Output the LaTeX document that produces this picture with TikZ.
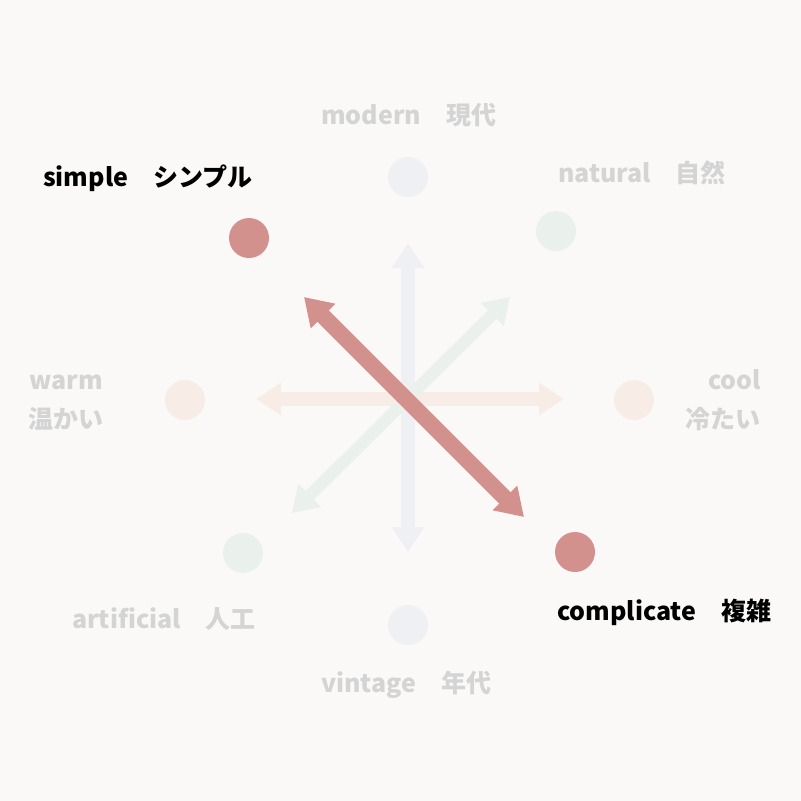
\documentclass[tikz,border=0pt]{standalone}
\usepackage{fontspec}
\setmainfont{Noto Sans CJK JP}
\usetikzlibrary{arrows.meta}
\definecolor{bgc}{HTML}{FAF9F7}
\definecolor{redc}{HTML}{D3918E}
\definecolor{bluec}{HTML}{EEF0F3}
\definecolor{greenc}{HTML}{EAF0EC}
\definecolor{peachc}{HTML}{F7EDE6}
\definecolor{grayt}{HTML}{D4D4D4}
\tikzset{
  dot/.style={circle, fill=#1, draw=none, minimum size=40pt, inner sep=0},
  lbl/.style={anchor=base west, inner sep=0, font=\fontsize{25}{29}\selectfont\bfseries, text=#1},
  lblr/.style={anchor=base east, inner sep=0, font=\fontsize{25}{29}\selectfont\bfseries, text=#1},
  axis/.style={draw=#1, line width=14pt, {Triangle[width=31pt,length=25pt]}-{Triangle[width=31pt,length=25pt]}},
  maxis/.style={draw=#1, line width=16pt, {Triangle[width=33pt,length=27pt]}-{Triangle[width=33pt,length=27pt]}}
}
\begin{document}
\begin{tikzpicture}[x=1pt,y=-1pt]
\fill[bgc] (0,0) rectangle (801,801);
\useasboundingbox (0,0) rectangle (801,801);
% circles
\node[dot=redc] (simple) at (249,238) {};
\node[dot=bluec] (modern) at (408,177) {};
\node[dot=greenc] (natural) at (556,231) {};
\node[dot=peachc] (warm) at (185,400) {};
\node[dot=peachc] (cool) at (634,400) {};
\node[dot=greenc] (artificial) at (243,553) {};
\node[dot=redc] (complicate) at (575,552) {};
\node[dot=bluec] (vintage) at (408,625) {};
% arrow ends
\coordinate (vT) at (408,243);
\coordinate (vB) at (408,552);
\coordinate (hL) at (256,399);
\coordinate (hR) at (564,399);
\coordinate (gA) at (292,513);
\coordinate (gB) at (510,297);
\coordinate (rA) at (304,297);
\coordinate (rB) at (524,517);
\draw[axis=bluec] (vT) -- (vB);
\draw[axis=peachc] (hL) -- (hR);
\draw[axis=greenc, line width=12pt] (gA) -- (gB);
\draw[maxis=redc] (rA) -- (rB);
% labels
\node[lbl=black] (tsimple) at (43,186) {simple　シンプル};
\node[lbl=grayt] (tmodern) at (321,124) {modern　現代};
\node[lbl=grayt] (tnatural) at (558,182) {natural　自然};
\node[lbl=grayt] (twarm) at (29,389) {warm};
\node[lbl=grayt] (twarmj) at (28,428) {温かい};
\node[lblr=grayt] (tcool) at (761,389) {cool};
\node[lblr=grayt] (tcoolj) at (761,428) {冷たい};
\node[lbl=black] (tcomp) at (557,620) {complicate　複雑};
\node[lbl=grayt] (tart) at (72,628) {artificial　人工};
\node[lbl=grayt] (tvin) at (321,692) {vintage　年代};
\end{tikzpicture}
\end{document}
